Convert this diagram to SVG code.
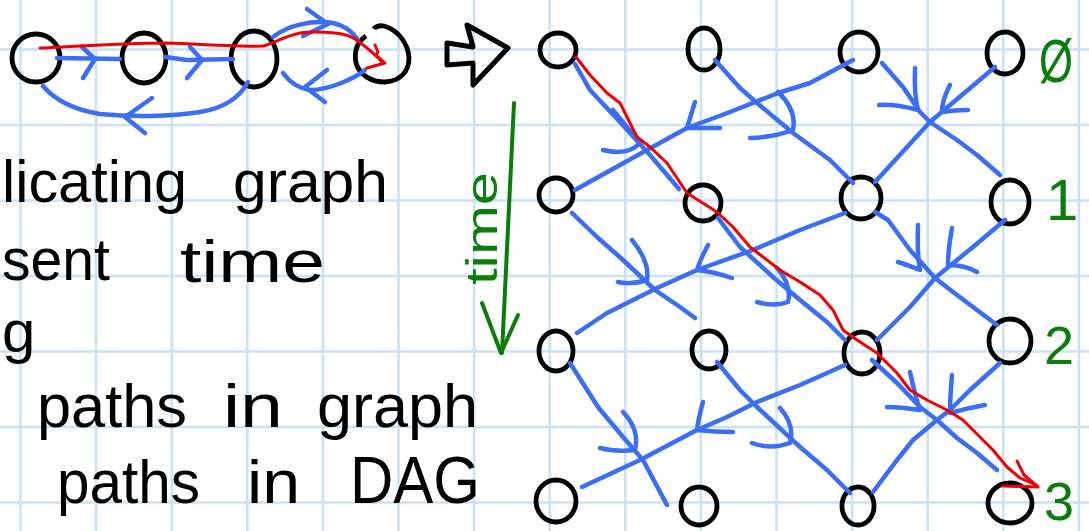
<svg xmlns="http://www.w3.org/2000/svg" width="1089" height="531" viewBox="0 0 1089 531">
<style>
.grid line{stroke:#c9e2f5;stroke-width:2.5}
.node{fill:none;stroke:#000;stroke-width:4.8}
.e{fill:none;stroke:#3a6ef6;stroke-width:4.5;stroke-linecap:round;stroke-linejoin:round}
.r{fill:none;stroke:#f00000;stroke-width:3;stroke-linecap:round;stroke-linejoin:round}
.g{fill:none;stroke:#0a7d0a;stroke-width:4;stroke-linecap:round;stroke-linejoin:round}
.hw{font-family:"Liberation Sans",Arial,sans-serif;fill:#000}
.lab{font-family:"Liberation Sans",Arial,sans-serif;fill:#0a7d0a}
</style>
<rect width="1089" height="531" fill="#fff"/>
<g class="grid">
<line x1="20.5" y1="0" x2="20.5" y2="531"/><line x1="96" y1="0" x2="96" y2="531"/><line x1="171.7" y1="0" x2="171.7" y2="531"/><line x1="247.3" y1="0" x2="247.3" y2="531"/><line x1="322.9" y1="0" x2="322.9" y2="531"/><line x1="398.5" y1="0" x2="398.5" y2="531"/><line x1="474.1" y1="0" x2="474.1" y2="531"/><line x1="549.7" y1="0" x2="549.7" y2="531"/><line x1="625.3" y1="0" x2="625.3" y2="531"/><line x1="700.9" y1="0" x2="700.9" y2="531"/><line x1="776.5" y1="0" x2="776.5" y2="531"/><line x1="852.1" y1="0" x2="852.1" y2="531"/><line x1="927.7" y1="0" x2="927.7" y2="531"/><line x1="1003.3" y1="0" x2="1003.3" y2="531"/><line x1="1078.9" y1="0" x2="1078.9" y2="531"/>
<line x1="0" y1="49.5" x2="1089" y2="49.5"/><line x1="0" y1="125" x2="1089" y2="125"/><line x1="0" y1="200.5" x2="1089" y2="200.5"/><line x1="0" y1="276" x2="1089" y2="276"/><line x1="0" y1="351.5" x2="1089" y2="351.5"/><line x1="0" y1="427" x2="1089" y2="427"/><line x1="0" y1="502.5" x2="1089" y2="502.5"/>
</g>

<!-- small graph nodes -->
<g id="gA"><ellipse class="node" cx="36" cy="58" rx="24" ry="24"/></g>
<g id="gB"><ellipse class="node" cx="144" cy="58" rx="22" ry="25"/></g>
<g id="gC"><ellipse class="node" cx="254" cy="59" rx="23" ry="28"/></g>
<g id="gD"><path class="node" d="M366,36 C357,42 354,52 356,63 C360,76 372,82 385,82 C400,81 409,72 409,58 C408,43 398,30 384,26 C379,25 375,27 374,29"/></g>

<!-- DAG nodes -->
<g id="n00"><ellipse class="node" cx="558" cy="50" rx="18" ry="17"/></g>
<g id="n01"><ellipse class="node" cx="704" cy="49" rx="16" ry="21"/></g>
<g id="n02"><ellipse class="node" cx="859" cy="52" rx="19" ry="20"/></g>
<g id="n03"><ellipse class="node" cx="1005" cy="53" rx="18" ry="21"/></g>
<g id="n10"><ellipse class="node" cx="556" cy="195" rx="17" ry="17"/></g>
<g id="n11"><ellipse class="node" cx="703" cy="203" rx="18" ry="18"/></g>
<g id="n12"><ellipse class="node" cx="861" cy="198" rx="20" ry="21"/></g>
<g id="n13"><ellipse class="node" cx="1010" cy="202" rx="19" ry="22"/></g>
<g id="n20"><ellipse class="node" cx="556" cy="351" rx="17" ry="20"/></g>
<g id="n21"><ellipse class="node" cx="709" cy="350" rx="17" ry="19"/></g>
<g id="n22"><ellipse class="node" cx="862" cy="353" rx="18" ry="21"/></g>
<g id="n23"><ellipse class="node" cx="1010" cy="341" rx="21" ry="22"/></g>
<g id="n30"><ellipse class="node" cx="556" cy="501" rx="20" ry="21"/></g>
<g id="n31"><ellipse class="node" cx="699" cy="506" rx="18" ry="19"/></g>
<g id="n32"><ellipse class="node" cx="858" cy="506" rx="16" ry="19"/></g>
<g id="n33"><ellipse class="node" cx="1010" cy="503" rx="22" ry="20"/></g>

<g id="connectors">
<!-- small graph -->
<path class="e" d="M57,58 L120,59"/><path class="e" d="M82,47 L95,59 L83,78"/>
<path class="e" d="M165,57 L187,60 L233,59"/><path class="e" d="M190,47 L202,60 L187,78"/>
<path class="e" d="M273,37 C288,25 312,20 333,23 C346,26 353,32 358,40"/><path class="e" d="M307,9 L328,24 L303,36"/>
<path class="e" d="M365,70 C355,78 330,90 310,90 C297,88 288,80 283,73"/><path class="e" d="M327,70 L305,87 L325,102"/>
<path class="e" d="M248,82 C240,97 225,108 200,112 C170,117 130,117 100,114 C75,110 55,100 43,86"/><path class="e" d="M152,98 L125,117 L145,133"/>
<path class="r" d="M40,48 C80,46 130,43 167,43 C200,44 240,47 263,46 C272,44 285,36 300,33 C312,31 325,32 335,33 C347,34 353,37 358,41 C366,47 376,55 383,63"/>
<path class="r" d="M375,45 L378,52 L376,55 L385,63 L367,68"/>
<!-- hollow arrow -->
<path fill="none" stroke="#000" stroke-width="5" stroke-linejoin="round" d="M447,43 L473,47 L467,25 L508,48 L473,85 L473,63 L447,65 Z"/>
<!-- time arrow -->
<path class="g" d="M514,103 L502,353"/><path class="g" d="M482,303 L501,353 L518,315"/>

<!-- DAG edges row 0 -> 1 -->
<path class="e" d="M575,64 L590,90 L620,122 L650,155 L679,189"/><path class="e" d="M613,110 L640,143 Q628,156 603,150"/>
<path class="e" d="M715,60 L740,88 L757,103 L793,133 L830,160 L853,183"/><path class="e" d="M778,92 Q797,110 793,130 Q775,137 750,138"/>
<path class="e" d="M853,60 L810,83 L778,93 L730,112 L687,128 L647,150 L575,190"/><path class="e" d="M695,102 Q690,118 687,128 L720,128"/>
<path class="e" d="M882,63 L903,87 L920,112 L930,122 L957,140 L977,155 L1000,175"/><path class="e" d="M915,68 Q914,95 918,110 Q895,104 879,105"/>
<path class="e" d="M995,67 L930,122 L875,182"/><path class="e" d="M950,85 Q942,100 942,112 Q955,110 968,110"/>
<!-- row 1 -> 2 -->
<path class="e" d="M572,213 L597,237 L623,260 L655,290 L680,307 L695,318"/><path class="e" d="M632,240 Q650,262 647,280 Q630,285 618,282"/>
<path class="e" d="M718,218 L740,247 L773,277 L800,300 L827,322 L845,340"/><path class="e" d="M757,302 Q775,307 788,302 Q792,285 777,268"/>
<path class="e" d="M845,213 L800,230 L753,250 L697,270 L657,288 L607,313 L577,333"/><path class="e" d="M708,245 Q700,260 697,270 Q715,272 732,278"/>
<path class="e" d="M875,212 L888,220 L910,250 L935,278 L953,292 L973,307 L997,325"/><path class="e" d="M918,225 Q917,255 920,270 Q905,264 898,262"/>
<path class="e" d="M1005,220 L973,247 L935,278 L910,307 L877,340"/><path class="e" d="M952,228 Q948,250 948,265 Q965,265 977,272"/>
<!-- row 2 -> 3 -->
<path class="e" d="M570,363 L598,407 L623,437 L643,460 L667,505"/><path class="e" d="M623,412 Q640,430 635,450 Q615,452 600,448"/>
<path class="e" d="M717,362 L740,390 L757,407 L800,447 L827,470 L850,493"/><path class="e" d="M780,408 Q795,425 790,443 Q770,450 752,443"/>
<path class="e" d="M845,365 L800,385 L757,402 L727,417 L697,430 L640,460 L582,487"/><path class="e" d="M703,402 Q698,420 697,430 Q715,432 733,432"/>
<path class="e" d="M872,360 L897,383 L920,407 L937,420 L957,438 L977,453 L997,470"/><path class="e" d="M910,372 Q915,395 920,410 Q900,407 887,407"/>
<path class="e" d="M1000,363 L970,390 L950,410 L937,420 L913,440 L897,460 L873,492"/><path class="e" d="M952,375 Q950,398 950,413 Q968,408 985,405"/>
<!-- red path in DAG -->
<path class="r" d="M576,57 L590,75 L607,93 L620,103 L637,137 L650,147 L667,163 L687,193 L717,212 L733,227 L750,247 L780,270 L800,282 L820,295 L833,310 L843,330 L857,340 L877,353 L897,373 L910,390 L927,400 L947,410 L963,420 L980,437 L993,450 L1007,467 L1020,478 L1036,485"/>
<path class="r" d="M1017,461 L1024,475 L1038,487 L1003,486"/>
</g>

<!-- texts -->
<g id="notes">
<text class="hw" x="2" y="202" font-size="60" textLength="185" lengthAdjust="spacingAndGlyphs">licating</text>
<text class="hw" x="233" y="202" font-size="60" textLength="155" lengthAdjust="spacingAndGlyphs">graph</text>
<text class="hw" x="2" y="280" font-size="60" textLength="108" lengthAdjust="spacingAndGlyphs">sent</text>
<text class="hw" x="180" y="282" font-size="60" textLength="145" lengthAdjust="spacingAndGlyphs">time</text>
<text class="hw" x="2" y="352" font-size="60">g</text>
<text class="hw" x="37" y="427" font-size="62" textLength="150" lengthAdjust="spacingAndGlyphs">paths</text>
<text class="hw" x="223" y="427" font-size="62" textLength="60" lengthAdjust="spacingAndGlyphs">in</text>
<text class="hw" x="317" y="427" font-size="62" textLength="161" lengthAdjust="spacingAndGlyphs">graph</text>
<text class="hw" x="57" y="503" font-size="62" textLength="143" lengthAdjust="spacingAndGlyphs">paths</text>
<text class="hw" x="247" y="503" font-size="62" textLength="53" lengthAdjust="spacingAndGlyphs">in</text>
<text class="hw" x="350" y="503" font-size="66" textLength="130" lengthAdjust="spacingAndGlyphs">DAG</text>
<text class="lab" transform="translate(497,285) rotate(-90)" font-size="44" textLength="113" lengthAdjust="spacingAndGlyphs">time</text>
</g>
<g id="layers">
<text class="lab" x="1039" y="82" font-size="62" textLength="34" lengthAdjust="spacingAndGlyphs">Ø</text>
<text class="lab" x="1046" y="220" font-size="58">1</text>
<text class="lab" x="1044" y="364" font-size="54">2</text>
<text class="lab" x="1044" y="520" font-size="54">3</text>
</g>
</svg>
